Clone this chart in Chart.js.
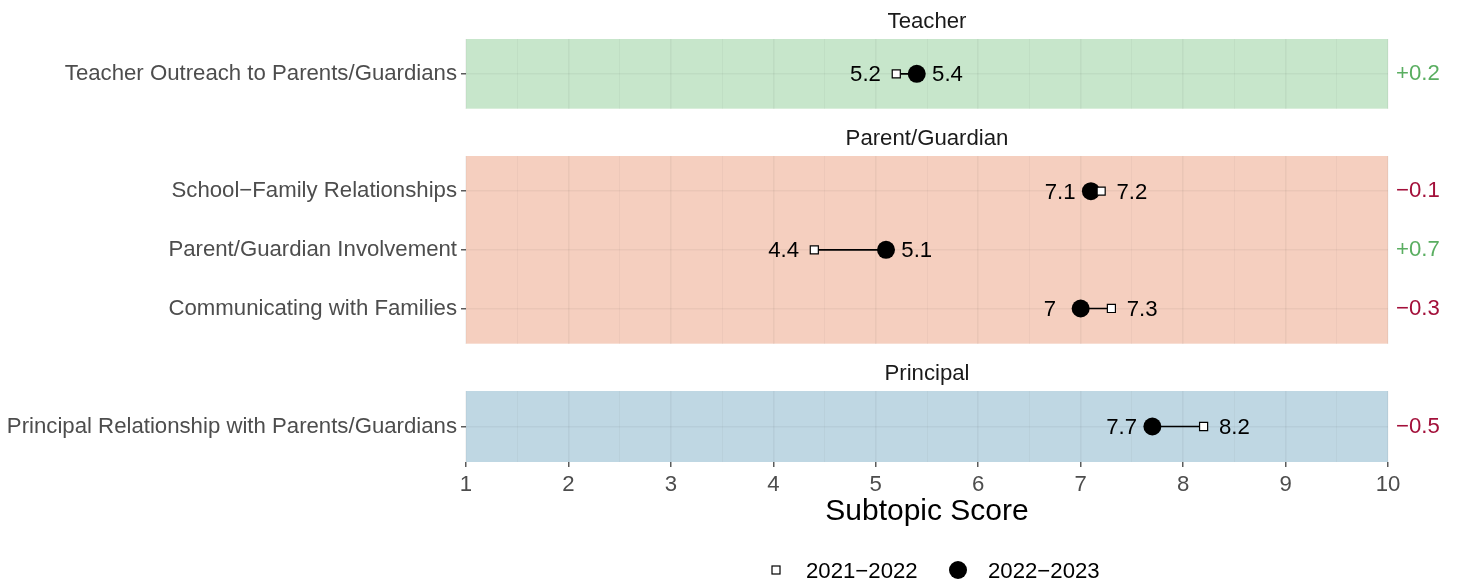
<!DOCTYPE html>
<html><head><meta charset="utf-8">
<script src="https://cdn.jsdelivr.net/npm/chart.js@4.4.1/dist/chart.umd.min.js"></script>
<style>
html,body{margin:0;padding:0;background:#fff;overflow:hidden;}
#wrap{position:relative;width:1460px;height:584px;overflow:hidden;}
#wrap canvas{position:absolute;left:0;top:0;}
</style></head><body>
<div id="wrap">
<canvas id="c1" width="1460" height="130"></canvas>
<canvas id="c2" width="1460" height="365"></canvas>
<canvas id="c3" width="1460" height="584"></canvas>
</div>
<script>
// ---- data ----
const facets = ['Teacher', 'Parent/Guardian', 'Principal'];
const subtopics = [
  'Teacher Outreach to Parents/Guardians',
  'School\u2212Family Relationships',
  'Parent/Guardian Involvement',
  'Communicating with Families',
  'Principal Relationship with Parents/Guardians'
];
const subtopicFacet = ['Teacher', 'Parent/Guardian', 'Parent/Guardian', 'Parent/Guardian', 'Principal'];
const score2021_2022 = [5.2, 7.2, 4.4, 7.3, 8.2];
const score2022_2023 = [5.4, 7.1, 5.1, 7.0, 7.7];
const seriesLabels = ['2021\u22122022', '2022\u22122023'];
const xTickValues = [1, 2, 3, 4, 5, 6, 7, 8, 9, 10];
const xAxisTitle = 'Subtopic Score';

// ---- styles ----
const FONT = "'Liberation Sans', Arial, Helvetica, sans-serif";
Chart.defaults.font.family = FONT;
const panelColors = {'Teacher': '#c7e6cb', 'Parent/Guardian': '#f5cfbf', 'Principal': '#bfd7e3'};
const GREEN = '#5aae61', RED = '#a3103a';
const MAJOR = 'rgba(0,0,0,0.045)', MINOR = 'rgba(0,0,0,0.03)';
const FS = 22.2;

function fmtDiff(d) {
  const r = Math.round(d * 10) / 10;
  return (r >= 0 ? '+' : '\u2212') + Math.abs(r).toFixed(1);
}
function fmtVal(v) { return String(Math.round(v * 10) / 10); }

const xTicksAll = [];
xTickValues.forEach((v, i) => {
  xTicksAll.push(v);
  if (i < xTickValues.length - 1) xTicksAll.push((v + xTickValues[i + 1]) / 2);
});

function makeChart(canvasId, facet, showX, padTop, padBottom) {
  const rows = subtopics.map((s, i) => i).filter(i => subtopicFacet[i] === facet);
  const cats = rows.map(i => subtopics[i]);
  const a = rows.map(i => score2021_2022[i]);
  const b = rows.map(i => score2022_2023[i]);
  const diffs = rows.map((i, j) => b[j] - a[j]);
  const n = cats.length;

  const datasets = [
    {label: seriesLabels[0], data: a.map((v, j) => ({x: v, y: j})), pointStyle: 'rect', pointRadius: 5.7,
     pointBackgroundColor: '#ffffff', pointBorderColor: '#000000', pointBorderWidth: 1.2, order: 0},
    {label: seriesLabels[1], data: b.map((v, j) => ({x: v, y: j})), pointStyle: 'circle', pointRadius: 9,
     pointBackgroundColor: '#000000', pointBorderColor: '#000000', pointBorderWidth: 0, order: 1}
  ];
  cats.forEach((c, j) => {
    datasets.push({label: 'seg', data: [{x: a[j], y: j}, {x: b[j], y: j}], showLine: true,
      borderColor: '#000000', borderWidth: 1.6, pointRadius: 0, order: 2});
  });

  const yTicks = s => { s.ticks = cats.map((c, j) => ({value: j})); };

  const plugin = {
    id: 'facetDecor' + canvasId,
    beforeDraw(chart) {
      const {ctx, chartArea: ca} = chart;
      ctx.save();
      ctx.fillStyle = panelColors[facet];
      ctx.fillRect(ca.left, ca.top, ca.right - ca.left, ca.bottom - ca.top);
      ctx.restore();
    },
    afterDatasetsDraw(chart) {
      const {ctx} = chart;
      const xs = chart.scales.x, ys = chart.scales.y;
      ctx.save();
      ctx.font = FS + 'px ' + FONT;
      ctx.fillStyle = '#000';
      ctx.textAlign = 'center';
      ctx.textBaseline = 'middle';
      cats.forEach((c, j) => {
        const lo = Math.min(a[j], b[j]), hi = Math.max(a[j], b[j]);
        const y = ys.getPixelForValue(j);
        ctx.fillText(fmtVal(lo), xs.getPixelForValue(lo - 0.3), y + 1.5);
        ctx.fillText(fmtVal(hi), xs.getPixelForValue(hi + 0.3), y + 1.5);
      });
      ctx.restore();
    },
    afterDraw(chart) {
      const {ctx, chartArea: ca} = chart;
      ctx.save();
      ctx.font = FS + 'px ' + FONT;
      ctx.fillStyle = '#1a1a1a';
      ctx.textAlign = 'center';
      ctx.textBaseline = 'alphabetic';
      ctx.fillText(facet, (ca.left + ca.right) / 2, ca.top - 11);
      if (showX) {
        const y = 570;
        ctx.fillStyle = '#fff'; ctx.strokeStyle = '#000'; ctx.lineWidth = 1.2;
        ctx.fillRect(772, y - 4, 8, 8); ctx.strokeRect(772, y - 4, 8, 8);
        ctx.fillStyle = '#000';
        ctx.beginPath(); ctx.arc(958, y, 9, 0, Math.PI * 2); ctx.fill();
        ctx.textAlign = 'left'; ctx.textBaseline = 'middle';
        ctx.fillText(seriesLabels[0], 806, y + 1.5);
        ctx.fillText(seriesLabels[1], 988, y + 1.5);
      }
      ctx.restore();
    }
  };

  return new Chart(document.getElementById(canvasId), {
    type: 'scatter',
    data: {datasets},
    options: {
      responsive: false, animation: false, events: [],
      layout: {padding: {top: padTop, bottom: padBottom, left: 0, right: 0}},
      plugins: {legend: {display: false}, tooltip: {enabled: false}},
      scales: {
        x: {
          type: 'linear', min: 1, max: 10,
          afterBuildTicks: s => { s.ticks = xTicksAll.map(v => ({value: v})); },
          afterFit: s => { s.height = showX ? 68 : 0; },
          border: {display: false},
          grid: {
            color: c => (c.tick && Number.isInteger(c.tick.value)) ? MAJOR : MINOR,
            lineWidth: c => (c.tick && Number.isInteger(c.tick.value)) ? 1.6 : 1,
            drawTicks: showX, tickLength: 5,
            tickColor: c => (c.tick && Number.isInteger(c.tick.value)) ? '#333333' : 'rgba(0,0,0,0)',
            tickWidth: 1.2
          },
          ticks: {
            display: showX, autoSkip: false, maxRotation: 0, padding: 5,
            font: {size: FS, family: FONT}, color: '#4d4d4d',
            callback: v => xTickValues.includes(v) ? String(v) : ''
          },
          title: {display: showX, text: xAxisTitle, font: {size: 30, family: FONT}, color: '#000', padding: {top: 0, bottom: 0}}
        },
        y: {
          type: 'linear', position: 'left', reverse: true, min: -0.6, max: n - 1 + 0.6,
          afterBuildTicks: yTicks,
          afterFit: s => { s.width = 466; },
          border: {display: false},
          grid: {color: MAJOR, lineWidth: 1.6, drawTicks: true, tickLength: 5, tickColor: '#333333', tickWidth: 1.2},
          ticks: {padding: 4, font: {size: FS, family: FONT}, color: '#4d4d4d', callback: (v, i) => cats[i]}
        },
        y2: {
          type: 'linear', position: 'right', reverse: true, min: -0.6, max: n - 1 + 0.6,
          afterBuildTicks: yTicks,
          afterFit: s => { s.width = 72; },
          border: {display: false},
          grid: {display: false, drawOnChartArea: false, drawTicks: false},
          ticks: {padding: 8, font: {size: FS, family: FONT},
            color: c => diffs[c.index] >= 0 ? GREEN : RED,
            callback: (v, i) => fmtDiff(diffs[i])}
        }
      }
    },
    plugins: [plugin]
  });
}

makeChart('c1', facets[0], false, 39, 20);
makeChart('c2', facets[1], false, 156, 20);
makeChart('c3', facets[2], true, 391, 54);
</script>
</body></html>
